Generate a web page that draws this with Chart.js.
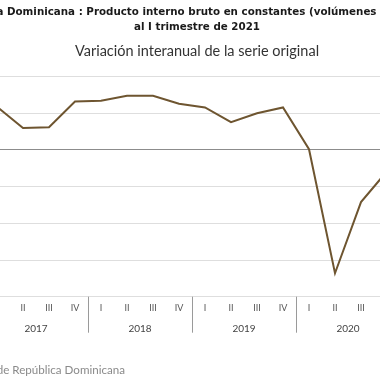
<!DOCTYPE html>
<html>
<head>
<meta charset="utf-8">
<script src="https://cdn.jsdelivr.net/npm/chart.js@4/dist/chart.umd.min.js"></script>
<style>
  html, body { margin: 0; padding: 0; background: #fff; }
  #wrap { position: relative; width: 380px; height: 380px; overflow: hidden; }
  #box { position: absolute; left: -60px; top: 0; width: 514px; height: 380px; }
</style>
</head>
<body>
<div id="wrap"><div id="box"><canvas id="mycanvas"></canvas></div></div>
<script>
// quarters 2017 I .. 2020 IV
var quarters = ["I", "II", "III", "IV", "I", "II", "III", "IV", "I", "II", "III", "IV", "I", "II", "III", "IV"];
var years = ["2017", "2018", "2019", "2020"];
var variacion = [5.9, 3.0, 3.1, 6.6, 6.7, 7.4, 7.4, 6.3, 5.8, 3.8, 5.0, 5.8, 0.1, -16.8, -7.1, -2.9];
var yTicks = [-20, -15, -10, -5, 0, 5, 10];

var titulo1 = "República Dominicana : Producto interno bruto en constantes (volúmenes encadenados)";
var titulo2 = "al I trimestre de 2021";
var subtitulo = "Variación interanual de la serie original";
var fuente = "Fuente: Banco Central de República Dominicana";

var fontName = "Lato, 'DejaVu Sans', sans-serif";
var titleFont = "bold 10.3px 'DejaVu Sans', sans-serif";

var textos = {
	id: "textos",
	afterDraw: function(chart) {
		var ctx = chart.ctx;
		var x = chart.scales.x;
		var top = chart.chartArea.bottom;
		var step = x.getPixelForValue(1) - x.getPixelForValue(0);
		var cx0 = 257; // centre of the full chart (canvas coords)
		ctx.save();

		// titles
		ctx.fillStyle = "#1a1a1a";
		ctx.font = titleFont;
		ctx.textBaseline = "middle";
		ctx.textAlign = "left";
		var cut = ctx.measureText("República ").width;
		ctx.fillText(titulo1, 60 + 7 - cut, 12.5);
		ctx.textAlign = "center";
		ctx.fillText(titulo2, cx0, 27);
		ctx.fillStyle = "#333";
		ctx.font = "14.5px " + fontName;
		ctx.fillText(subtitulo, cx0, 51);

		// year dividers
		ctx.strokeStyle = "#9a9a9a";
		ctx.lineWidth = 1;
		for (var i = 0; i <= years.length; i++) {
			var px = x.getPixelForValue(i * 4) - step / 2;
			px = Math.round(px) + 0.5;
			ctx.beginPath();
			ctx.moveTo(px, top);
			ctx.lineTo(px, top + 36);
			ctx.stroke();
		}
		ctx.fillStyle = "#444";
		ctx.font = "10px " + fontName;
		ctx.textAlign = "center";
		for (var j = 0; j < years.length; j++) {
			var cx = (x.getPixelForValue(j * 4) + x.getPixelForValue(j * 4 + 3)) / 2;
			ctx.fillText(years[j], cx, top + 32);
		}
		ctx.fillStyle = "#8a8a8a";
		ctx.font = "11.6px " + fontName;
		ctx.textAlign = "right";
		ctx.fillText(fuente, 185, 370);
		ctx.restore();
	}
};

var chartdata = {
	labels: quarters,
	datasets: [
		{
			label: "Variación interanual",
			fill: false,
			lineTension: 0,
			borderColor: "#6e5530",
			backgroundColor: "#6e5530",
			borderWidth: 2,
			pointRadius: 0,
			data: variacion
		}
	]
};

var ctx = document.getElementById("mycanvas");

var LineGraph = new Chart(ctx, {
	type: 'line',
	data: chartdata,
	plugins: [textos],
	options: {
		responsive: true,
		maintainAspectRatio: false,
		animation: false,
		layout: { padding: { left: 0, right: 54, top: 76.6, bottom: 33.3 } },
		plugins: {
			legend: { display: false },
			tooltip: { enabled: false }
		},
		scales: {
			x: {
				offset: true,
				grid: { display: false, drawTicks: false },
				border: { display: false },
				ticks: { color: "#555", font: { family: fontName, size: 9 }, padding: 6, maxRotation: 0, autoSkip: false },
				afterFit: function(scale) { scale.height = 50; }
			},
			y: {
				min: -20,
				max: 10,
				afterBuildTicks: function(scale) {
					scale.ticks = yTicks.map(function(v) { return { value: v }; });
				},
				grid: {
					color: function(c) { return c.tick && c.tick.value === 0 ? "#8c8c8c" : "#dedede"; },
					drawTicks: false
				},
				border: { display: false },
				ticks: { color: "#555", font: { family: fontName, size: 9 }, padding: 6 },
				afterFit: function(scale) { scale.width = 44; }
			}
		}
	}
});
</script>
</body>
</html>
